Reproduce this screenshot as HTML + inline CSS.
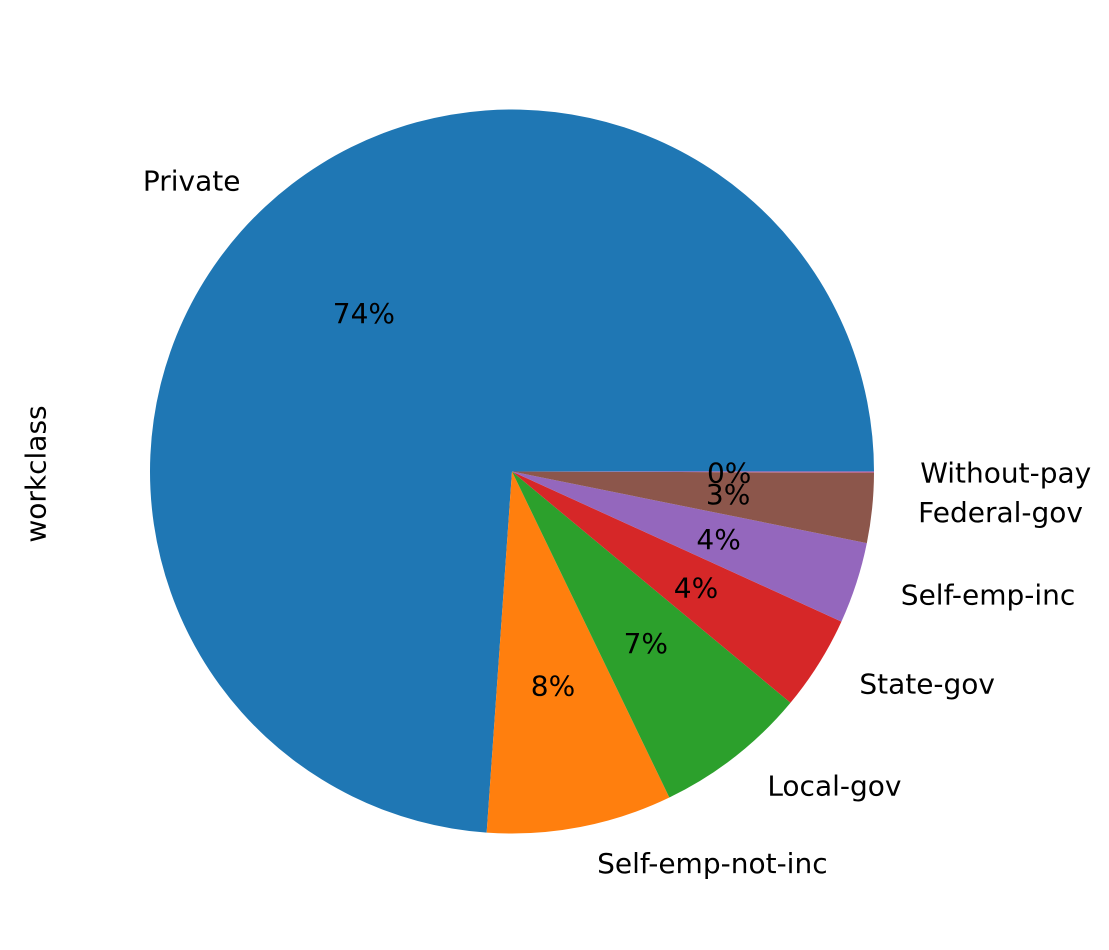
<!DOCTYPE html>
<html><head><meta charset="utf-8"><style>
html,body{margin:0;padding:0;background:#fff;}
svg text{font-family:"DejaVu Sans","Liberation Sans",sans-serif;font-size:28px;fill:#000;}
</style></head><body>
<svg id="chart" width="1109" height="945" viewBox="0 0 1109 945" xmlns="http://www.w3.org/2000/svg">
<rect width="1109" height="945" fill="#fff"/>
<text transform="translate(36,474) rotate(-90)" text-anchor="middle" dominant-baseline="central">workclass</text>
<g id="slices"></g>
<g id="labels"></g>
</svg>
<script>
const categories = ["Private","Self-emp-not-inc","Local-gov","State-gov","Self-emp-inc","Federal-gov","Without-pay"];
const values = [22696,2541,2093,1298,1116,960,14];
const colors = ["#1f77b4","#ff7f0e","#2ca02c","#d62728","#9467bd","#8c564b","#e377c2"];
const cx=512, cy=471.5, R=362;
const ns="http://www.w3.org/2000/svg";
const total=values.reduce((a,b)=>a+b,0);
const gS=document.getElementById('slices'), gL=document.getElementById('labels');
function pt(a,r){return [cx+r*Math.cos(a), cy-r*Math.sin(a)];}
let acc=0;
values.forEach((v,i)=>{
  const a0=acc/total*2*Math.PI; acc+=v; const a1=acc/total*2*Math.PI;
  const p0=pt(a0,R), p1=pt(a1,R);
  const large=(a1-a0)>Math.PI?1:0;
  const path=document.createElementNS(ns,'path');
  path.setAttribute('d',`M${cx},${cy} L${p0[0]},${p0[1]} A${R},${R} 0 ${large} 0 ${p1[0]},${p1[1]} Z`);
  path.setAttribute('fill',colors[i]);
  
  
  gS.appendChild(path);
  const am=(a0+a1)/2;
  const lp=pt(am,R*1.1);
  const right=Math.cos(am)>=0;
  const t=document.createElementNS(ns,'text');
  t.setAttribute('x',lp[0]+(right?10:0)); t.setAttribute('y',lp[1]+1);
  t.setAttribute('text-anchor',right?'start':'end');
  t.setAttribute('dominant-baseline','central');
  t.textContent=categories[i];
  
  
  gL.appendChild(t);
  const pp=pt(am,R*0.6);
  const q=document.createElementNS(ns,'text');
  q.setAttribute('x',pp[0]); q.setAttribute('y',pp[1]+1);
  q.setAttribute('text-anchor','middle');
  q.setAttribute('dominant-baseline','central');
  q.textContent=Math.round(v/total*100)+'%';
  
  
  gL.appendChild(q);
});
</script>
</body></html>
